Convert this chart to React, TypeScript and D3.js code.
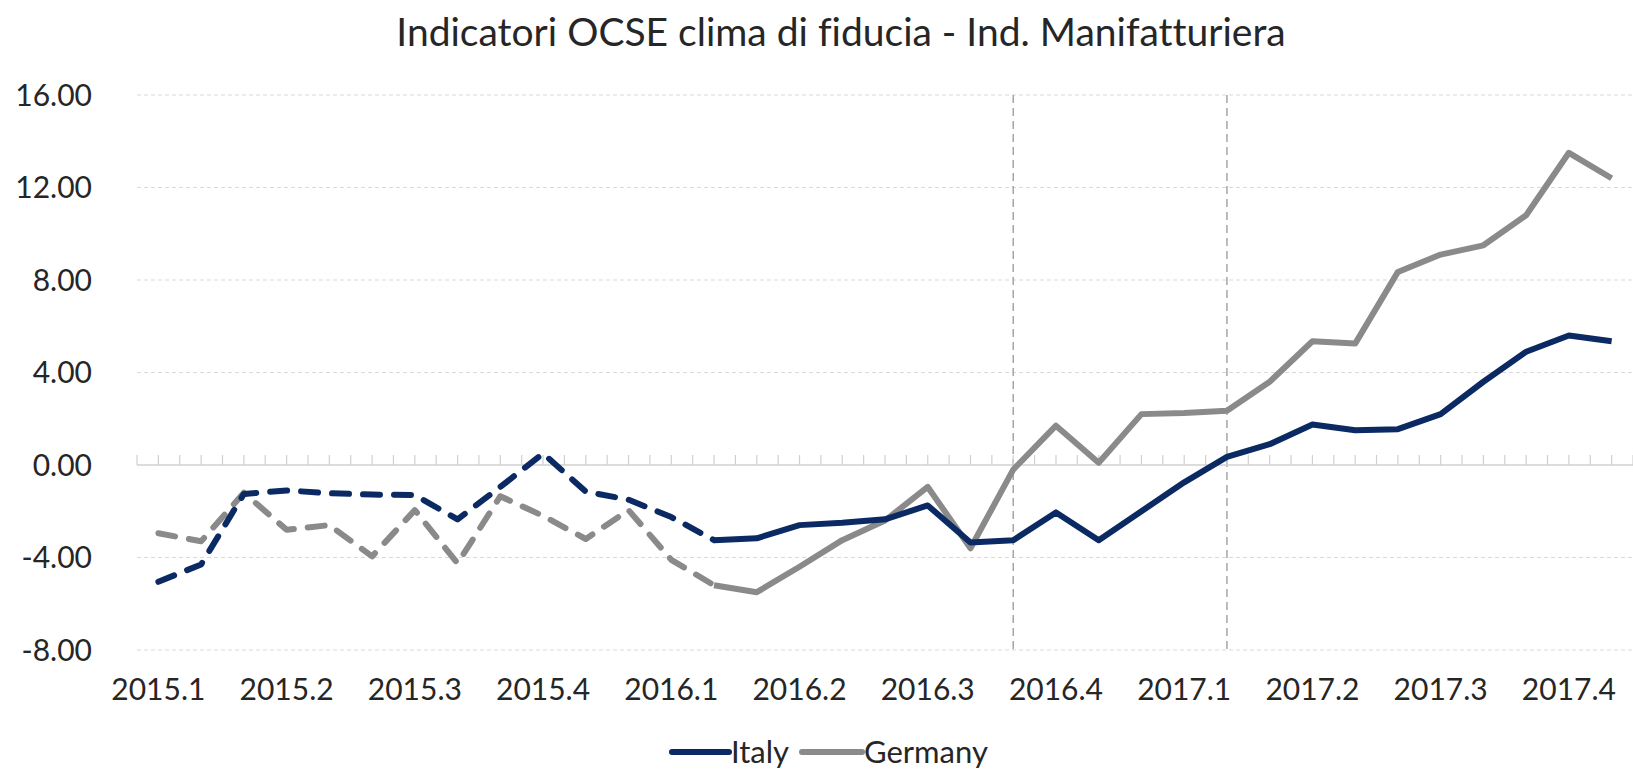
import React, { useEffect, useRef } from 'react';
import * as d3 from 'd3';

const W = 1633;
const H = 772;

const title = 'Indicatori OCSE clima di fiducia - Ind. Manifatturiera';

// quarter labels, one every three monthly points
const quarterLabels = [
  '2015.1', '2015.2', '2015.3', '2015.4',
  '2016.1', '2016.2', '2016.3', '2016.4',
  '2017.1', '2017.2', '2017.3', '2017.4',
];

const yTicks = [-8, -4, 0, 4, 8, 12, 16];

// monthly values, Jan 2015 .. Nov 2017
const italy = [
  -5.05, -4.3, -1.25, -1.1, -1.22, -1.28, -1.3, -2.35, -0.95, 0.5,
  -1.15, -1.5, -2.25, -3.25, -3.17, -2.6, -2.5, -2.35, -1.75, -3.35,
  -3.25, -2.05, -3.25, -2.0, -0.75, 0.35, 0.9, 1.75, 1.5, 1.55,
  2.2, 3.6, 4.9, 5.6, 5.35,
];

const germany = [
  -2.95, -3.3, -1.2, -2.8, -2.6, -3.95, -1.95, -4.25, -1.35, -2.2,
  -3.2, -1.95, -4.1, -5.2, -5.5, -4.4, -3.25, -2.4, -0.95, -3.6,
  -0.2, 1.7, 0.1, 2.2, 2.25, 2.35, 3.6, 5.35, 5.25, 8.35,
  9.1, 9.5, 10.8, 13.5, 12.4,
];

// first solid point (earlier part drawn dashed)
const solidFrom = 13;
// months marked with a vertical dashed line
const markers = [20, 25];

const series = [
  { name: 'Italy', values: italy, color: '#0b2a63' },
  { name: 'Germany', values: germany, color: '#8a8a8a' },
];

function Chart() {
  const ref = useRef<SVGSVGElement>(null);

  useEffect(() => {
    const svg = d3.select(ref.current);
    svg.selectAll('*').remove();
    svg.style('font-variant-ligatures', 'none');

    const font = 'Lato, "Open Sans", sans-serif';
    const textColor = '#262626';

    // two half-steps per month, ticks at every half-step
    const x = d3.scaleLinear().domain([0, 70]).range([137, 1633]);
    const xm = (i: number) => x(2 * i + 1);
    const y = d3.scaleLinear().domain([-8, 16]).range([650, 95]);

    svg.append('text')
      .attr('x', 841).attr('y', 46)
      .attr('text-anchor', 'middle')
      .style('font-family', font).style('font-size', '39px')
      .attr('fill', textColor)
      .text(title);

    // gridlines
    svg.append('g')
      .selectAll('line')
      .data(yTicks.filter(d => d !== 0))
      .join('line')
      .attr('x1', x(0)).attr('x2', x(70))
      .attr('y1', d => y(d)).attr('y2', d => y(d))
      .attr('stroke', '#d9d9d9').attr('stroke-width', 1.2)
      .attr('stroke-dasharray', '4 3');

    // y labels
    svg.append('g')
      .selectAll('text')
      .data(yTicks)
      .join('text')
      .attr('x', 92).attr('y', d => y(d))
      .attr('dy', '0.35em')
      .attr('text-anchor', 'end')
      .style('font-family', font).style('font-size', '30px')
      .attr('fill', textColor)
      .text(d => d.toFixed(2));

    // vertical markers
    svg.append('g')
      .selectAll('line')
      .data(markers)
      .join('line')
      .attr('x1', d => xm(d)).attr('x2', d => xm(d))
      .attr('y1', y(16)).attr('y2', y(-8) + 4)
      .attr('stroke', '#a6a6a6').attr('stroke-width', 1.5)
      .attr('stroke-dasharray', '8 5');

    // zero axis with ticks
    const axisG = svg.append('g');
    axisG.append('line')
      .attr('x1', x(0)).attr('x2', x(70))
      .attr('y1', y(0)).attr('y2', y(0))
      .attr('stroke', '#d0d0d0').attr('stroke-width', 1.5);
    axisG.selectAll('line.tick')
      .data(d3.range(0, 71))
      .join('line')
      .attr('class', 'tick')
      .attr('x1', d => x(d)).attr('x2', d => x(d))
      .attr('y1', y(0) - 10).attr('y2', y(0))
      .attr('stroke', '#d0d0d0').attr('stroke-width', 1.2);

    // x labels
    svg.append('g')
      .selectAll('text')
      .data(quarterLabels)
      .join('text')
      .attr('x', (d, i) => xm(i * 3))
      .attr('y', 700)
      .attr('text-anchor', 'middle')
      .style('font-family', font).style('font-size', '30px')
      .attr('fill', textColor)
      .text(d => d);

    // draw germany first so italy sits on top
    [...series].reverse().forEach(s => {
      const gen = d3.line<number>().x(i => xm(i)).y(i => y(s.values[i]));
      const idx = d3.range(s.values.length);
      svg.append('path')
        .attr('d', gen(idx.slice(0, solidFrom + 1)))
        .attr('fill', 'none').attr('stroke', s.color)
        .attr('stroke-width', 6)
        .attr('stroke-linecap', 'round').attr('stroke-linejoin', 'round')
        .attr('stroke-dasharray', '17 14');
      svg.append('path')
        .attr('d', gen(idx.slice(solidFrom)))
        .attr('fill', 'none').attr('stroke', s.color)
        .attr('stroke-width', 6)
        .attr('stroke-linejoin', 'round');
    });

    // legend
    const legend = svg.append('g');
    const items = [
      { s: series[0], x0: 672, x1: 729, tx: 731 },
      { s: series[1], x0: 802, x1: 862, tx: 864 },
    ];
    items.forEach(it => {
      legend.append('line')
        .attr('x1', it.x0).attr('x2', it.x1)
        .attr('y1', 752).attr('y2', 752)
        .attr('stroke', it.s.color).attr('stroke-width', 6)
        .attr('stroke-linecap', 'round');
      legend.append('text')
        .attr('x', it.tx).attr('y', 752)
        .attr('dy', '0.35em')
        .style('font-family', font).style('font-size', '31px')
        .attr('fill', textColor)
        .text(it.s.name);
    });
  }, []);

  return <svg ref={ref} width={W} height={H} style={{ position: 'absolute', left: 0, top: 0, background: '#fff' }} />;
}

export default function App() {
  return <Chart />;
}
